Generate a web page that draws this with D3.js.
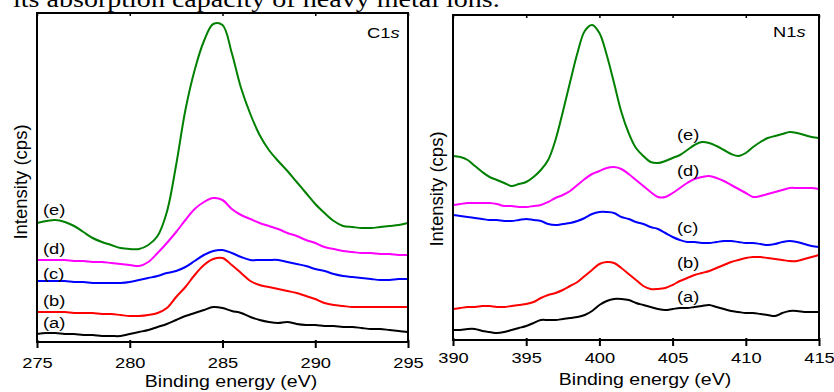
<!DOCTYPE html>
<html><head><meta charset="utf-8">
<script src="https://cdn.jsdelivr.net/npm/d3@7"></script>
<style>body{margin:0;background:#fff}svg{display:block}text{font-family:"Liberation Sans",Arial,sans-serif;fill:#000}</style>
</head><body><svg id="c" width="834" height="392"></svg>
<script>
// ---------- data ----------
const c1Energy = d3.range(275, 295.01, 0.5);
const c1Ticks = [275, 280, 285, 290, 295];
const c1a = [8,9,9,8,8,7,7,6,6,6,8,10,12,15,18,22,26,29,32,35,34,31,29,25,22,20,19,20,18,17,17,16,16,15,15,14,13,13,12,11,10];
const c1b = [30,30,30,30,29,29,29,28,28,27,26,26,27,29,34,45,55,67,77,83,84,77,69,61,57,55,53,51,49,46,43,39,37,36,35,35,35,35,35,35,35];
const c1c = [61,61,61,61,60,60,59,59,59,59,60,62,64,66,69,71,75,81,87,91,92,89,85,82,82,82,82,80,78,76,73,71,68,66,65,64,63,62,62,63,63];
const c1d = [82,82,82,82,81,81,80,80,79,78,77,76,80,89,99,110,122,133,140,144,142,133,127,123,119,116,113,109,106,102,99,95,93,91,90,89,89,88,88,87,87];
const c1e = [119,121,122,120,116,110,104,100,97,94,93,93,97,106,130,177,232,272,301,318,317,289,254,228,207,192,181,171,160,149,138,129,121,116,115,114,114,115,116,117,119];

const n1Energy = d3.range(390, 415.01, 0.5);
const n1Ticks = [390, 395, 400, 405, 410, 415];
const n1a = [10,10,11,11,9,8,7,8,10,12,14,17,20,20,20,21,22,23,25,29,35,39,41,41,40,37,35,33,31,30,31,32,32,33,34,35,33,31,29,28,27,27,26,25,24,27,29,29,28,28,28];
const n1b = [31,32,33,33,34,34,33,33,34,35,36,38,42,45,47,50,54,58,64,70,76,78,77,72,66,60,54,51,51,52,55,59,62,65,67,69,72,75,78,80,82,83,83,82,81,80,79,79,81,83,85];
const n1c = [125,124,123,122,121,120,120,119,119,120,121,120,119,116,115,116,117,119,122,126,128,128,127,123,121,118,116,113,111,107,103,100,98,98,97,97,98,99,99,98,97,97,96,95,96,98,99,98,96,94,93];
const n1d = [135,136,137,137,137,137,136,134,134,133,133,134,135,138,142,145,149,155,161,166,169,172,173,171,166,160,154,148,143,143,147,152,157,161,163,164,162,159,155,151,147,143,144,146,148,150,152,152,152,152,151];
const n1e = [184,183,180,174,168,163,160,157,154,156,158,163,170,180,200,228,258,287,309,315,307,285,257,228,207,192,184,178,177,179,182,185,190,195,198,197,194,190,186,184,187,193,198,202,204,206,208,207,205,203,202];

const seriesNames = ["(a)", "(b)", "(c)", "(d)", "(e)"];
const seriesColors = ["#000000", "#ff0000", "#0000ff", "#ff00ff", "#008000"];

// ---------- drawing ----------
const SX = 1.22;
const svg = d3.select("#c");

// caption fragment at top (cut off)
svg.append("text")
  .attr("transform", "translate(13,6.5) scale(" + SX + ",1)")
  .style("font-family", '"Liberation Serif","Times New Roman",serif')
  .style("font-size", "23px")
  .text("its absorption capacity of heavy metal ions.");

function panel(cfg) {
  const x = d3.scaleLinear().domain(d3.extent(cfg.energy)).range([cfg.left, cfg.right]);
  const y = d3.scaleLinear().domain([0, cfg.ymax]).range([cfg.bottom, cfg.top]);
  const g = svg.append("g");

  const line = d3.line()
    .x((d, i) => x(cfg.energy[i]))
    .y(d => y(d))
    .curve(d3.curveCatmullRom.alpha(0.5));

  cfg.series.forEach((vals, k) => {
    g.append("path").attr("d", line(vals))
      .attr("fill", "none").attr("stroke", seriesColors[k])
      .attr("stroke-width", 2).attr("stroke-linejoin", "round");
  });

  // bottom axis
  const bx = g.append("g").attr("transform", `translate(0,${cfg.bottom})`)
    .call(d3.axisBottom(x).tickValues(cfg.ticks).tickSize(6).tickPadding(cfg.pad).tickFormat(d3.format("d")));
  bx.select(".domain").remove();
  bx.selectAll(".tick line").attr("y1", -2).attr("stroke", "#000").attr("stroke-width", 2);
  bx.selectAll(".tick text").attr("transform", `scale(${SX},1)`)
    .style("font-size", "15px").style("font-family", '"Liberation Sans",Arial,sans-serif').attr("fill", "#000");

  // top inward ticks
  const tx = g.append("g").attr("transform", `translate(0,${cfg.top})`)
    .call(d3.axisTop(x).tickValues(cfg.ticks).tickSize(-3).tickFormat(""));
  tx.select(".domain").remove();
  tx.selectAll(".tick line").attr("stroke", "#000").attr("stroke-width", 1.5);

  // frame
  g.append("rect").attr("x", cfg.left).attr("y", cfg.top)
    .attr("width", cfg.right - cfg.left).attr("height", cfg.bottom - cfg.top)
    .attr("fill", "none").attr("stroke", "#000").attr("stroke-width", 2);

  // axis titles
  g.append("text").attr("transform", `translate(${cfg.xtitleX},${cfg.xtitleY}) scale(${SX},1)`)
    .attr("text-anchor", "middle").style("font-size", "16px").text("Binding energy (eV)");
  g.append("text").attr("transform", `translate(${cfg.ytitleX},${cfg.ytitleY}) rotate(-90)`)
    .attr("text-anchor", "middle").attr("dy", "0.35em").style("font-size", "18.5px").text("Intensity (cps)");

  // panel title
  const t = g.append("text").attr("transform", `translate(${cfg.titleX},${cfg.titleY}) scale(${SX},1)`)
    .style("font-size", "15px");
  t.append("tspan").text(cfg.title);
  t.append("tspan").style("font-style", "italic").text("s");

  // series labels
  seriesNames.forEach((nm, k) => {
    g.append("text").attr("transform", `translate(${cfg.labelX},${cfg.labelY[k]}) scale(${SX},1)`)
      .style("font-size", "15px").text(nm);
  });
}

panel({
  energy: c1Energy, ticks: c1Ticks, series: [c1a, c1b, c1c, c1d, c1e],
  left: 37, right: 408, top: 13, bottom: 342, ymax: 329, pad: 9,
  xtitleX: 231, xtitleY: 386.5, ytitleX: 21, ytitleY: 182,
  title: "C1", titleX: 367, titleY: 38,
  labelX: 43, labelY: [328, 306, 279, 254, 215]
});

panel({
  energy: n1Energy, ticks: n1Ticks, series: [n1a, n1b, n1c, n1d, n1e],
  left: 453, right: 819, top: 15, bottom: 340, ymax: 325, pad: 6,
  xtitleX: 645, xtitleY: 385, ytitleX: 437, ytitleY: 189,
  title: "N1", titleX: 773, titleY: 37,
  labelX: 677, labelY: [302, 268, 233, 176, 140]
});
</script>
</body></html>
